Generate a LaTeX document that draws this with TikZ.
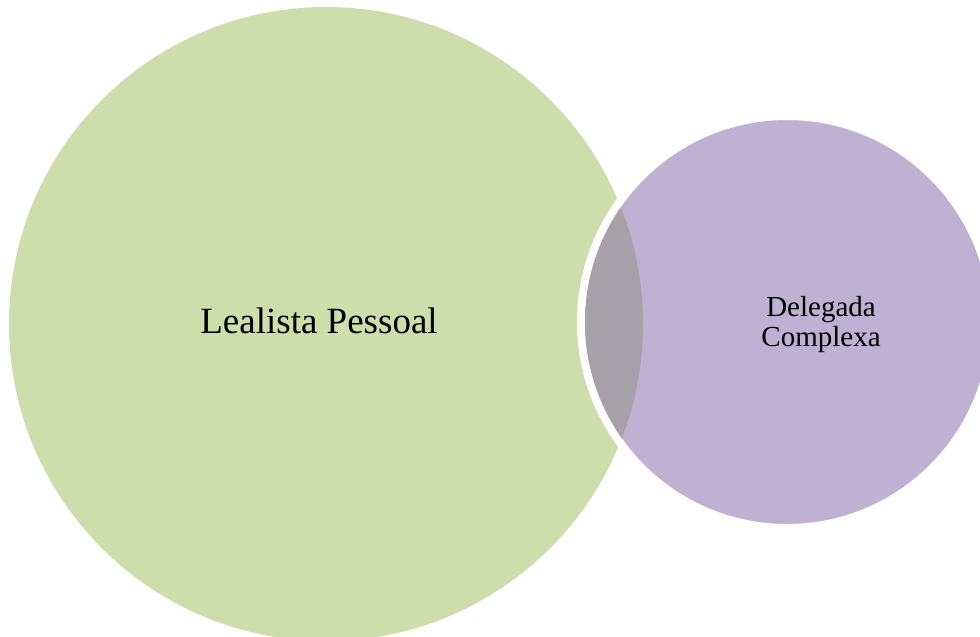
\documentclass[tikz,border=0pt]{standalone}
\usepackage{fontspec}
\setmainfont{Liberation Serif}
\definecolor{vgreen}{HTML}{CDDDAC}
\definecolor{vpurple}{HTML}{BEB1D2}
\definecolor{vlens}{HTML}{A6A1A8}
\begin{document}
\begin{tikzpicture}[x=1pt,y=-1pt,
  venn/.style={circle,inner sep=0pt,outer sep=0pt},
  lbl/.style={inner sep=0pt,anchor=base,text=black}]
  \useasboundingbox (0,0) rectangle (980,637);
  \clip (0,0) rectangle (980,637);
  % large circle
  \node[venn,fill=vgreen,minimum size=634pt] (lp) at (326,324) {};
  % small circle with white rim
  \node[venn,fill=vpurple,draw=white,line width=8pt,minimum size=412pt] (dc) at (787,322) {};
  % overlap of the two sets
  \begin{scope}
    \clip (326,324) circle (317pt);
    \fill[vlens] (787,322) circle (202pt);
  \end{scope}
  \node[lbl,font=\fontsize{37}{40}\selectfont] (t1) at (319,333) {Lealista Pessoal};
  \node[lbl,font=\fontsize{29}{30}\selectfont] (t2) at (821,316) {Delegada};
  \node[lbl,font=\fontsize{29}{30}\selectfont] (t3) at (821,346) {Complexa};
\end{tikzpicture}
\end{document}
